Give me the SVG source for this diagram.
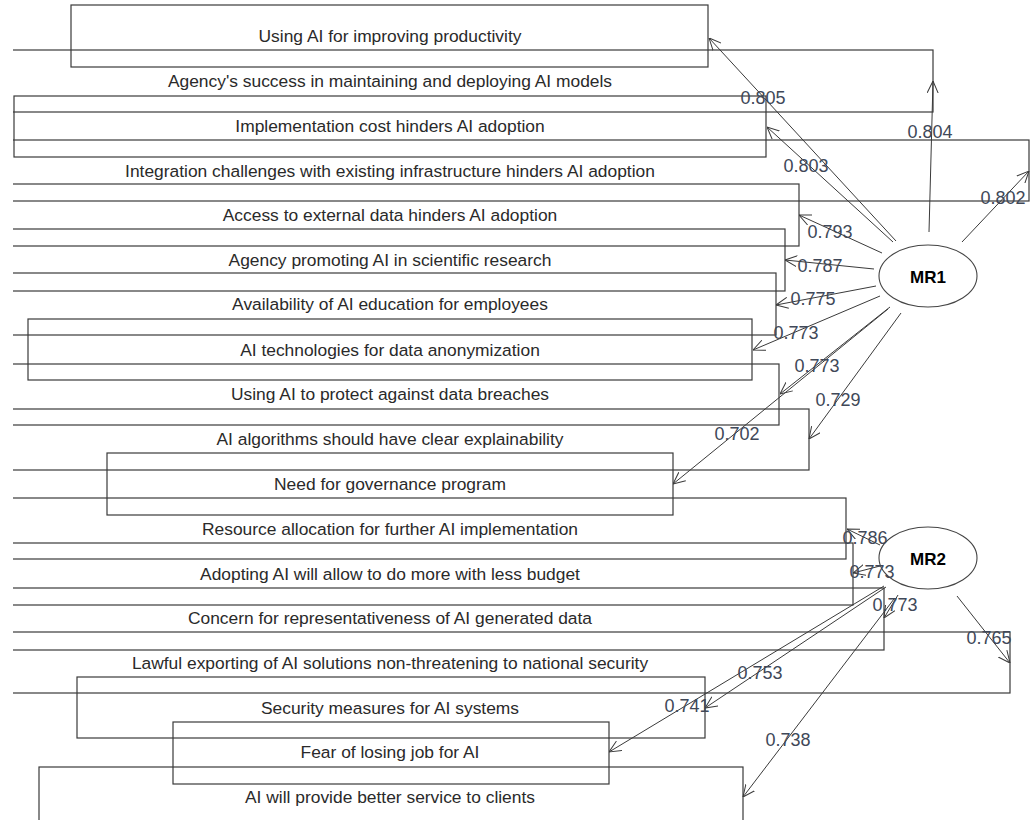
<svg xmlns="http://www.w3.org/2000/svg" width="1033" height="820" viewBox="0 0 1033 820">
<style>
.box{fill:none;stroke:#3a3a3a;stroke-width:1.2}
.bt{font-family:"Liberation Sans",Arial,sans-serif;font-size:17.4px;fill:#2a2a2a;text-anchor:middle;dominant-baseline:central}
.lv{fill:#fff;stroke:#444;stroke-width:1.1}
.lt{font-family:"Liberation Sans",Arial,sans-serif;font-size:17px;font-weight:bold;fill:#000;text-anchor:middle;dominant-baseline:central}
.ar{stroke:#3a3a3a;stroke-width:1;fill:none;marker-end:url(#ah)}
.num{font-family:"Liberation Sans",Arial,sans-serif;font-size:18px;fill:#404858;text-anchor:middle;dominant-baseline:central}
</style>
<defs>
<clipPath id="plot"><rect x="13" y="0" width="1020" height="820"/></clipPath>
<marker id="ah" viewBox="0 0 12 12" refX="12" refY="6" markerWidth="12" markerHeight="12" markerUnits="userSpaceOnUse" orient="auto">
<path d="M0,0.5 L12,6 L0,11.5" fill="none" stroke="#3a3a3a" stroke-width="1"/>
</marker>
</defs>
<rect x="0" y="0" width="1033" height="820" fill="#fff"/>
<g clip-path="url(#plot)">
<g id="v1"><rect class="box" x="71" y="5" width="637" height="62"/><text class="bt" x="390" y="36">Using AI for improving productivity</text></g>
<g id="v2"><rect class="box" x="-153" y="50" width="1086" height="62"/><text class="bt" x="390" y="81">Agency's success in maintaining and deploying AI models</text></g>
<g id="v3"><rect class="box" x="14" y="96" width="752" height="61"/><text class="bt" x="390" y="126">Implementation cost hinders AI adoption</text></g>
<g id="v4"><rect class="box" x="-249" y="140" width="1278" height="61"/><text class="bt" x="390" y="171">Integration challenges with existing infrastructure hinders AI adoption</text></g>
<g id="v5"><rect class="box" x="-19" y="184" width="818" height="62"/><text class="bt" x="390" y="215">Access to external data hinders AI adoption</text></g>
<g id="v6"><rect class="box" x="-5" y="229" width="790" height="62"/><text class="bt" x="390" y="260">Agency promoting AI in scientific research</text></g>
<g id="v7"><rect class="box" x="4" y="273" width="772" height="62"/><text class="bt" x="390" y="304">Availability of AI education for employees</text></g>
<g id="v8"><rect class="box" x="28" y="319" width="724" height="61"/><text class="bt" x="390" y="350">AI technologies for data anonymization</text></g>
<g id="v9"><rect class="box" x="1" y="364" width="778" height="61"/><text class="bt" x="390" y="394">Using AI to protect against data breaches</text></g>
<g id="v10"><rect class="box" x="-29" y="409" width="838" height="61"/><text class="bt" x="390" y="439">AI algorithms should have clear explainability</text></g>
<g id="v11"><rect class="box" x="107" y="453" width="566" height="62"/><text class="bt" x="390" y="484">Need for governance program</text></g>
<g id="v12"><rect class="box" x="-66" y="498" width="912" height="61"/><text class="bt" x="390" y="529">Resource allocation for further AI implementation</text></g>
<g id="v13"><rect class="box" x="-73" y="543" width="926" height="62"/><text class="bt" x="390" y="574">Adopting AI will allow to do more with less budget</text></g>
<g id="v14"><rect class="box" x="-104" y="588" width="988" height="62"/><text class="bt" x="390" y="618">Concern for representativeness of AI generated data</text></g>
<g id="v15"><rect class="box" x="-230" y="632" width="1240" height="61"/><text class="bt" x="390" y="663">Lawful exporting of AI solutions non-threatening to national security</text></g>
<g id="v16"><rect class="box" x="77" y="677" width="628" height="61"/><text class="bt" x="390" y="708">Security measures for AI systems</text></g>
<g id="v17"><rect class="box" x="173" y="722" width="436" height="62"/><text class="bt" x="390" y="752">Fear of losing job for AI</text></g>
<g id="v18"><rect class="box" x="39" y="767" width="704" height="62"/><text class="bt" x="390" y="797">AI will provide better service to clients</text></g>
</g>
<g id="MR1"><ellipse class="lv" cx="928" cy="276" rx="49" ry="31"/><text class="lt" x="928" y="277">MR1</text></g>
<g id="MR2"><ellipse class="lv" cx="928" cy="558" rx="49" ry="31"/><text class="lt" x="928" y="559">MR2</text></g>
<g id="connectors">
<line class="ar" x1="896" y1="241" x2="709" y2="38"/>
<line class="ar" x1="929" y1="232" x2="933" y2="81"/>
<line class="ar" x1="893" y1="242" x2="767" y2="127"/>
<line class="ar" x1="962" y1="242" x2="1029" y2="171"/>
<line class="ar" x1="882" y1="253" x2="799" y2="215"/>
<line class="ar" x1="874" y1="269" x2="785" y2="260"/>
<line class="ar" x1="876" y1="286" x2="776" y2="305"/>
<line class="ar" x1="880" y1="296" x2="753" y2="350"/>
<line class="ar" x1="890" y1="307" x2="780" y2="394"/>
<line class="ar" x1="901" y1="313" x2="809" y2="439"/>
<line class="ar" x1="888" y1="309" x2="673" y2="484"/>
<line class="ar" x1="880" y1="545" x2="847" y2="529"/>
<line class="ar" x1="880" y1="566" x2="853" y2="573"/>
<line class="ar" x1="898" y1="595" x2="884" y2="618"/>
<line class="ar" x1="957" y1="596" x2="1010" y2="663"/>
<line class="ar" x1="886" y1="587" x2="705" y2="708"/>
<line class="ar" x1="884" y1="586" x2="609" y2="752"/>
<line class="ar" x1="894" y1="599" x2="743" y2="797"/>
<text class="num" x="763" y="98">0.805</text>
<text class="num" x="930" y="132">0.804</text>
<text class="num" x="806" y="166">0.803</text>
<text class="num" x="1003" y="198">0.802</text>
<text class="num" x="830" y="232">0.793</text>
<text class="num" x="820" y="266">0.787</text>
<text class="num" x="813" y="299">0.775</text>
<text class="num" x="796" y="333">0.773</text>
<text class="num" x="817" y="366">0.773</text>
<text class="num" x="838" y="400">0.729</text>
<text class="num" x="737" y="434">0.702</text>
<text class="num" x="865" y="538">0.786</text>
<text class="num" x="872" y="572">0.773</text>
<text class="num" x="895" y="605">0.773</text>
<text class="num" x="989" y="638">0.765</text>
<text class="num" x="760" y="673">0.753</text>
<text class="num" x="687" y="706">0.741</text>
<text class="num" x="788" y="740">0.738</text>
</g>
</svg>
